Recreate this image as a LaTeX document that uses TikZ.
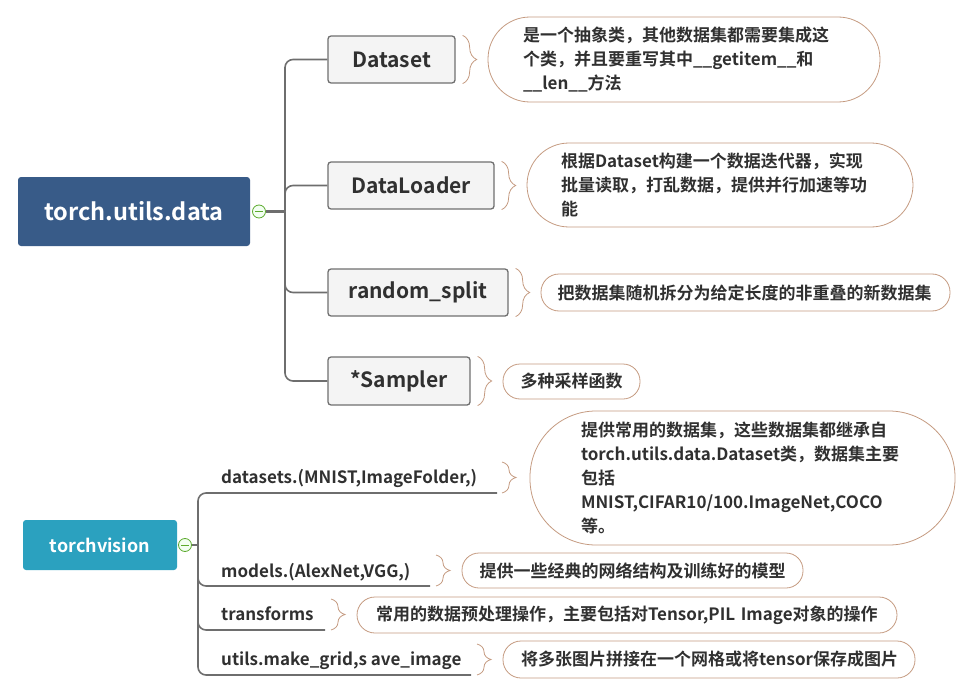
\documentclass[tikz,border=0pt]{standalone}
\usepackage{fontspec}
\setmainfont{Noto Sans CJK SC}[BoldFont={Noto Sans CJK SC Bold}]
\usetikzlibrary{decorations.pathreplacing,calc}
\definecolor{rootA}{HTML}{385B88}
\definecolor{rootB}{HTML}{2BA1BF}
\definecolor{boxfill}{HTML}{F4F4F4}
\definecolor{boxline}{HTML}{6F6F6F}
\definecolor{linec}{HTML}{6E6E6E}
\definecolor{tanc}{HTML}{C49A80}
\definecolor{txt}{HTML}{303030}
\definecolor{minusg}{HTML}{5DAA2E}
\tikzset{
  rootbox/.style={rectangle, rounded corners=3pt, text=white, inner sep=0pt},
  kid/.style={rectangle, draw=boxline, fill=boxfill, line width=1.3pt, rounded corners=3pt,
    font=\fontsize{21}{24}\selectfont\bfseries, text=txt, inner sep=0pt},
  bub/.style={rectangle, draw=tanc, line width=0.8pt, align=left, inner sep=0pt,
    font=\fontsize{17}{24}\selectfont\bfseries, text=txt},
  lbl/.style={font=\fontsize{17}{20}\selectfont\bfseries, text=txt, inner sep=0pt},
  brc/.style={draw=tanc, line width=0.8pt, decorate, decoration={brace, amplitude=14pt}},
  conn/.style={draw=linec, line width=1.6pt, rounded corners=8pt},
  minus/.style={circle, draw=minusg, fill=green!5, line width=0.8pt, minimum size=13pt, inner sep=0pt}
}
\begin{document}
\begin{tikzpicture}[x=1pt,y=-1pt]
\path[use as bounding box] (0,0) rectangle (962,693);

% ---------- torch.utils.data ----------
\node[rootbox, fill=rootA, minimum width=232pt, minimum height=69pt,
  font=\fontsize{23.5}{26}\selectfont\bfseries] (r1) at (134,211.5) {torch.utils.data};
\node[minus] (m1) at (259,211.5) {};
\draw[minusg, line width=0.9pt] ($(m1.center)+(-4,0)$) -- ($(m1.center)+(4,0)$);
\coordinate (j1) at (285,211.5);

\node[kid, minimum width=127pt, minimum height=47pt] (ds) at (391.5,59.5) {Dataset};
\node[kid, minimum width=166pt, minimum height=47pt] (dl) at (411,185.5) {DataLoader};
\node[kid, minimum width=180pt, minimum height=47pt] (rs) at (418,292.5) {random\_split};
\node[kid, minimum width=142pt, minimum height=48pt] (sp) at (399,381) {*Sampler};

\draw[draw=linec, line width=2.6pt] (m1.east) -- (j1);
\draw[conn] (j1) |- (ds.west);
\draw[conn] (j1) |- (dl.west);
\draw[conn] (j1) |- (rs.west);
\draw[conn] (j1) |- (sp.west);

\draw[brc] ($(ds.north east)+(7,0)$) -- ($(ds.south east)+(7,0)$);
\draw[brc] ($(dl.north east)+(7,0)$) -- ($(dl.south east)+(7,0)$);
\draw[brc] ($(rs.north east)+(7,0)$) -- ($(rs.south east)+(7,0)$);
\draw[brc] ($(sp.north east)+(7,0)$) -- ($(sp.south east)+(7,0)$);

\node[bub, minimum width=392pt, minimum height=85pt, rounded corners=42pt, text width=322pt] (b1) at (684,59.5)
  {是一个抽象类，其他数据集都需要集成这\\个类，并且要重写其中\_\_getitem\_\_和\\\_\_len\_\_方法};
\node[bub, minimum width=386pt, minimum height=84pt, rounded corners=42pt, text width=318pt] (b2) at (720,185)
  {根据Dataset构建一个数据迭代器，实现\\批量读取，打乱数据，提供并行加速等功\\能};
\node[bub, minimum width=409pt, minimum height=37pt, rounded corners=18pt, text width=376pt] (b3) at (745.5,292.5)
  {把数据集随机拆分为给定长度的非重叠的新数据集};
\node[bub, minimum width=137pt, minimum height=35pt, rounded corners=17pt, text width=102pt] (b4) at (571.5,381.5)
  {多种采样函数};

% ---------- torchvision ----------
\node[rootbox, fill=rootB, minimum width=154pt, minimum height=50pt,
  font=\fontsize{18}{21}\selectfont\bfseries] (r2) at (100,545) {torchvision};
\node[minus] (m2) at (185,545) {};
\draw[minusg, line width=0.9pt] ($(m2.center)+(-4,0)$) -- ($(m2.center)+(4,0)$);
\coordinate (j2) at (198,545);

\node[lbl, anchor=base west] (l1) at (221,483) {datasets.(MNIST,ImageFolder,)};
\node[lbl, anchor=base west] (l2) at (221,577) {models.(AlexNet,VGG,)};
\node[lbl, anchor=base west] (l3) at (221,620) {transforms};
\node[lbl, anchor=base west] (l4) at (221,665) {utils.make\_grid,s ave\_image};
\coordinate (u1) at (497,493);
\coordinate (u2) at (430,586);
\coordinate (u3) at (325,630);
\coordinate (u4) at (471,675);

\draw[draw=linec, line width=2.2pt] (m2.east) -- (j2);
\draw[conn] (j2) |- (u1);
\draw[conn] (j2) |- (u2);
\draw[conn] (j2) |- (u3);
\draw[conn] (j2) |- (u4);

\draw[brc] ($(u1)+(5,-31)$) -- ($(u1)+(5,0)$);
\draw[brc] ($(u2)+(6,-31)$) -- ($(u2)+(6,0)$);
\draw[brc] ($(u3)+(6,-31)$) -- ($(u3)+(6,0)$);
\draw[brc] ($(u4)+(6,-31)$) -- ($(u4)+(6,0)$);

\node[bub, minimum width=425pt, minimum height=134pt, rounded corners=66pt, text width=323pt] (b5) at (742.5,478)
  {提供常用的数据集，这些数据集都继承自\\torch.utils.data.Dataset类，数据集主要\\包括\\MNIST,CIFAR10/100.ImageNet,COCO\\等。};
\node[bub, minimum width=341pt, minimum height=35pt, rounded corners=17pt, text width=306pt] (b6) at (632.5,570.5)
  {提供一些经典的网络结构及训练好的模型};
\node[bub, minimum width=540pt, minimum height=36pt, rounded corners=18pt, text width=502pt] (b7) at (627,615)
  {常用的数据预处理操作，主要包括对Tensor,PIL Image对象的操作};
\node[bub, minimum width=412pt, minimum height=37pt, rounded corners=18pt, text width=376pt] (b8) at (709,659.5)
  {将多张图片拼接在一个网格或将tensor保存成图片};
\end{tikzpicture}
\end{document}
